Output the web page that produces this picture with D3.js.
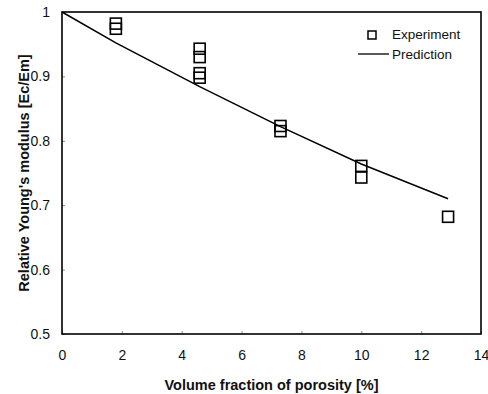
<!DOCTYPE html>
<html>
<head>
<meta charset="utf-8">
<script src="https://cdn.jsdelivr.net/npm/d3@7"></script>
<style>
  body { margin: 0; background: #fff; }
  text { font-family: "Liberation Sans", Arial, sans-serif; fill: #111; }
</style>
</head>
<body>
<div id="chart"></div>
<script>
// experiment: porosity [%] vs relative modulus
const expX = [1.8, 1.8, 4.6, 4.6, 4.6, 4.6, 7.3, 7.3, 10.0, 10.0, 12.9];
const expY = [0.982, 0.974, 0.943, 0.930, 0.905, 0.898, 0.823, 0.815, 0.761, 0.743, 0.682];

// prediction curve
const predX = [0, 1.8, 4.6, 7.3, 10.0, 12.9];
const predY = [1.0, 0.952, 0.884, 0.822, 0.764, 0.710];

const xTicks = [0, 2, 4, 6, 8, 10, 12, 14];
const yTicks = [0.5, 0.6, 0.7, 0.8, 0.9, 1];

const W = 488, H = 394;
const m = { left: 62, right: 7, top: 12, bottom: 60 };

const svg = d3.select('#chart')
  .append('svg')
  .attr('width', W)
  .attr('height', H);

const x = d3.scaleLinear().domain([0, 14]).range([m.left, W - m.right]);
const y = d3.scaleLinear().domain([0.5, 1]).range([H - m.bottom, m.top]);

// axes (labels only, tiny inner ticks)
svg.append('g')
  .attr('transform', `translate(0,${H - m.bottom})`)
  .call(d3.axisBottom(x).tickValues(xTicks).tickFormat(d3.format('d')).tickSize(-3).tickPadding(16))
  .call(g => g.select('.domain').remove())
  .call(g => g.selectAll('line').attr('stroke', '#888'))
  .call(g => g.selectAll('text').attr('font-size', 14).style('font-family', '"Liberation Sans", Arial, sans-serif'));

svg.append('g')
  .attr('transform', `translate(${m.left},0)`)
  .call(d3.axisLeft(y).tickValues(yTicks).tickFormat(d => d === 1 ? '1' : d3.format('.1f')(d)).tickSize(-3).tickPadding(12))
  .call(g => g.select('.domain').remove())
  .call(g => g.selectAll('line').attr('stroke', '#888'))
  .call(g => g.selectAll('text').attr('font-size', 14).style('font-family', '"Liberation Sans", Arial, sans-serif'));

// plot frame
svg.append('rect')
  .attr('x', m.left)
  .attr('y', m.top)
  .attr('width', W - m.right - m.left)
  .attr('height', H - m.bottom - m.top)
  .attr('fill', 'none')
  .attr('stroke', '#000')
  .attr('stroke-width', 1.6);

// prediction line
const line = d3.line()
  .x(d => x(d[0]))
  .y(d => y(d[1]));

svg.append('path')
  .datum(d3.zip(predX, predY))
  .attr('d', line)
  .attr('fill', 'none')
  .attr('stroke', '#000')
  .attr('stroke-width', 1.5);

// experiment markers
const sq = 11;
svg.append('g')
  .selectAll('rect')
  .data(d3.zip(expX, expY))
  .join('rect')
    .attr('x', d => x(d[0]) - sq / 2)
    .attr('y', d => y(d[1]) - sq / 2)
    .attr('width', sq)
    .attr('height', sq)
    .attr('fill', 'none')
    .attr('stroke', '#000')
    .attr('stroke-width', 1.6);

// legend
const lg = svg.append('g');
lg.append('rect')
  .attr('x', 368).attr('y', 31)
  .attr('width', 8).attr('height', 8)
  .attr('fill', 'none').attr('stroke', '#000').attr('stroke-width', 1.5);
lg.append('text')
  .attr('x', 392).attr('y', 34).attr('dy', '0.35em')
  .attr('font-size', 13.5).text('Experiment');
lg.append('line')
  .attr('x1', 358).attr('x2', 389).attr('y1', 54).attr('y2', 54)
  .attr('stroke', '#000').attr('stroke-width', 1.3);
lg.append('text')
  .attr('x', 392).attr('y', 54).attr('dy', '0.35em')
  .attr('font-size', 13.5).text('Prediction');

// axis titles
svg.append('text')
  .attr('x', (m.left + W - m.right) / 2)
  .attr('y', 390)
  .attr('text-anchor', 'middle')
  .attr('font-size', 14.5)
  .attr('font-weight', 'bold')
  .text('Volume fraction of porosity [%]');

svg.append('text')
  .attr('transform', `translate(29,${(m.top + H - m.bottom) / 2}) rotate(-90)`)
  .attr('text-anchor', 'middle')
  .attr('font-size', 14.5)
  .attr('font-weight', 'bold')
  .text("Relative Young's modulus [Ec/Em]");
</script>
</body>
</html>
